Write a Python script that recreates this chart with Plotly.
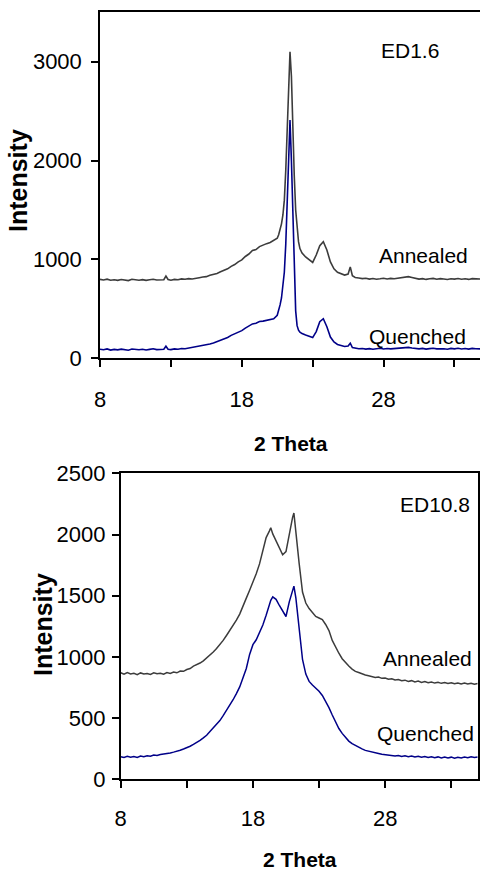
import plotly.graph_objects as go

# ---------------- data: ED1.6 (top panel) ----------------
top_theta = [8.0, 8.25, 8.5, 8.75, 9.0, 9.25, 9.5, 9.75, 10.0, 10.25, 10.5, 10.75, 11.0, 11.25, 11.5, 11.75, 12.0, 12.25, 12.5,
             12.65, 12.8,
             13.0, 13.25, 13.5, 13.75, 14.0, 14.25, 14.5, 14.75, 15.0, 15.25, 15.5, 15.75, 16.0, 16.25, 16.5, 16.75,
             17.0, 17.25, 17.5, 17.75, 18.0, 18.25, 18.5, 18.75, 19.0, 19.25, 19.5, 19.75, 20.0, 20.25, 20.5,
             20.6, 20.7, 20.8, 20.9, 21.0, 21.1, 21.2, 21.3, 21.4, 21.5, 21.6, 21.7, 21.8, 21.9, 22.0, 22.1,
             22.25, 22.5, 22.75, 23.0, 23.25, 23.5, 23.75, 24.0, 24.25, 24.5, 24.75, 25.0, 25.25, 25.5,
             25.65, 25.8,
             26.0, 26.25, 26.5, 26.75, 27.0, 27.25, 27.5, 27.75, 28.0, 28.25, 28.5, 28.75, 29.0, 29.25, 29.5, 29.75,
             30.0, 30.25, 30.5, 30.75, 31.0, 31.25, 31.5, 31.75, 32.0, 32.25, 32.5, 32.75, 33.0, 33.25, 33.5, 33.75,
             34.0, 34.25, 34.5, 34.75, 35.0]

top_annealed = [798, 792, 801, 789, 795, 788, 797, 791, 786, 799, 793, 790, 796, 788, 794, 800, 792, 797, 795,
                832, 797,
                790, 798, 795, 803, 799, 806, 802, 812, 815, 822, 826, 840, 848, 858, 875, 888,
                905, 930, 948, 975, 995, 1030, 1055, 1090, 1100, 1130, 1148, 1160, 1172, 1195, 1215,
                1250, 1300, 1360, 1450, 1600, 1900, 2300, 2750, 3100, 2850, 2300, 1850, 1500, 1300, 1180, 1110,
                1065, 1025, 995, 970, 1045, 1140, 1180, 1095, 975, 905, 870, 852, 842, 852,
                925, 835,
                818, 812, 806, 809, 801, 807, 799, 804, 810, 803, 808, 805, 809, 812, 818, 826,
                818, 809, 801, 806, 798, 804, 808, 800, 806, 802, 797, 805, 801, 807, 800, 804,
                798, 806, 802, 805, 800]

top_quenched = [92, 86, 95, 83, 90, 85, 93, 88, 82, 94, 89, 86, 92, 84, 90, 96, 88, 93, 91,
                122, 92,
                88, 95, 92, 99, 97, 104, 106, 113, 118, 125, 132, 145, 155, 168, 182, 198,
                210, 232, 248, 262, 280, 305, 330, 348, 355, 372, 376, 382, 392, 400, 435,
                480, 540, 610, 720, 870, 1150, 1650, 2150, 2410, 2000, 1450, 900, 480, 330, 285, 265,
                250, 236, 220, 210, 270, 370, 400, 320, 215, 165, 140, 128, 120, 125,
                152, 108,
                100, 96, 99, 93, 98, 92, 97, 101, 94, 99, 95, 98, 102, 100, 106, 110,
                104, 98, 95, 100, 93, 98, 102, 95, 99, 96, 92, 100, 95, 101, 94, 99,
                93, 100, 96, 99, 95]

# ---------------- data: ED10.8 (bottom panel) ----------------
bot_theta = [8.0, 8.25, 8.5, 8.75, 9.0, 9.25, 9.5, 9.75, 10.0, 10.25, 10.5, 10.75, 11.0, 11.25, 11.5, 11.75,
             12.0, 12.25, 12.5, 12.75, 13.0, 13.25, 13.5, 13.75, 14.0, 14.25, 14.5, 14.75, 15.0, 15.25, 15.5, 15.75,
             16.0, 16.25, 16.5, 16.75, 17.0, 17.25, 17.5, 17.75, 18.0, 18.25, 18.5, 18.75, 19.0, 19.25,
             19.35,
             19.5, 19.75, 20.0, 20.25, 20.5, 20.75, 21.0,
             21.1,
             21.25, 21.5, 21.75, 22.0, 22.25, 22.5, 22.75, 23.0, 23.25, 23.5, 23.75, 24.0, 24.25, 24.5, 24.75, 25.0,
             25.25, 25.5, 25.75, 26.0, 26.25, 26.5, 26.75, 27.0, 27.25, 27.5, 27.75, 28.0, 28.25, 28.5, 28.75, 29.0,
             29.25, 29.5, 29.75, 30.0, 30.25, 30.5, 30.75, 31.0, 31.25, 31.5, 31.75, 32.0, 32.25, 32.5, 32.75, 33.0,
             33.25, 33.5, 33.75, 34.0, 34.25, 34.5, 34.75, 35.0]

bot_annealed = [870, 858, 872, 861, 866, 855, 869, 860, 864, 857, 870, 862, 866, 858, 872, 865,
                876, 870, 884, 882, 897, 905, 925, 935, 950, 968, 990, 1015, 1040, 1068, 1100, 1135,
                1175, 1215, 1255, 1300, 1350, 1410, 1480, 1545, 1610, 1680, 1760, 1880, 1975, 2030,
                2055,
                2005, 1945, 1895, 1835, 1860, 2010, 2140,
                2175,
                2000, 1760, 1530, 1440, 1395, 1360, 1330, 1318, 1305, 1265, 1215, 1135, 1080, 1030, 985, 950,
                925, 900, 882, 872, 860, 852, 846, 840, 832, 836, 825, 828, 818, 822, 812, 815,
                806, 810, 800, 806, 796, 802, 792, 798, 789, 795, 786, 793, 784, 790, 782, 789,
                780, 787, 779, 786, 778, 785, 777, 783]

bot_quenched = [185, 178, 188, 180, 186, 179, 190, 184, 192, 188, 198, 194, 202, 205, 212, 215,
                222, 228, 238, 248, 258, 270, 285, 300, 318, 338, 360, 390, 418, 448, 480, 520,
                560, 600, 650, 700, 755, 830, 905, 1020, 1100, 1140, 1195, 1260, 1340, 1430,
                1462,
                1490, 1470, 1420, 1370, 1330, 1450, 1555,
                1578,
                1480, 1230, 980, 860, 800, 770, 748, 720, 685, 640, 585, 525, 465, 415, 375, 340,
                312, 292, 275, 260, 248, 236, 228, 220, 214, 210, 204, 202, 196, 198, 190, 195,
                187, 192, 184, 190, 182, 188, 180, 186, 178, 184, 176, 183, 175, 182, 174, 181,
                173, 180, 175, 182, 176, 184, 178, 183]

x_tickvals = [8, 13, 18, 23, 28, 33]
x_ticktext = ["8", "", "18", "", "28", ""]
top_yticks = [0, 1000, 2000, 3000]
bot_yticks = [0, 500, 1000, 1500, 2000, 2500]

# ---------------- figure ----------------
W, H = 480, 874
FONT = "Liberation Sans, Arial, sans-serif"
ANNEALED_C = "#3c3c3c"
QUENCHED_C = "#000088"


def px_x(p):
    return p / W


def px_y(p):
    return 1 - p / H


fig = go.Figure()
fig.add_trace(go.Scatter(x=top_theta, y=top_annealed, mode="lines", line=dict(color=ANNEALED_C, width=1.6),
                         xaxis="x", yaxis="y", showlegend=False))
fig.add_trace(go.Scatter(x=top_theta, y=top_quenched, mode="lines", line=dict(color=QUENCHED_C, width=1.6),
                         xaxis="x", yaxis="y", showlegend=False))
fig.add_trace(go.Scatter(x=bot_theta, y=bot_annealed, mode="lines", line=dict(color=ANNEALED_C, width=1.5),
                         xaxis="x2", yaxis="y2", showlegend=False))
fig.add_trace(go.Scatter(x=bot_theta, y=bot_quenched, mode="lines", line=dict(color=QUENCHED_C, width=1.5),
                         xaxis="x2", yaxis="y2", showlegend=False))

axis_common = dict(showgrid=False, zeroline=False, showline=True, linecolor="black", linewidth=1.5,
                   ticks="outside", ticklen=7, tickwidth=1.5, tickcolor="black", automargin=False,
                   tickfont=dict(family=FONT, size=22, color="black"))

fig.update_layout(
    template="none",
    width=W, height=H,
    margin=dict(l=0, r=0, t=0, b=0, pad=0, autoexpand=False),
    paper_bgcolor="white", plot_bgcolor="white",
    xaxis=dict(axis_common, domain=[px_x(100), 1.0], range=[8, 34.8], anchor="y",
               tickvals=x_tickvals, ticktext=x_ticktext, mirror=True, ticklabelstandoff=14),
    yaxis=dict(axis_common, domain=[px_y(358.3), px_y(12.3)], range=[0, 3500], anchor="x",
               tickvals=top_yticks, ticklabelstandoff=5),
    xaxis2=dict(axis_common, domain=[px_x(120.7), px_x(477.7)], range=[8, 35], anchor="y2",
                tickvals=x_tickvals, ticktext=x_ticktext, mirror=True, ticklabelstandoff=12),
    yaxis2=dict(axis_common, domain=[px_y(779.3), px_y(473.3)], range=[0, 2500], anchor="x2",
                tickvals=bot_yticks, mirror=True, ticklabelstandoff=2),
)


def note(text, x, y, size=21, bold=False, angle=0):
    fig.add_annotation(text=f"<b>{text}</b>" if bold else text, x=px_x(x), y=px_y(y),
                       xref="paper", yref="paper", showarrow=False, textangle=angle,
                       xanchor="center", yanchor="middle", borderpad=0,
                       font=dict(family=FONT, size=size, color="black"))


note("Intensity", 18, 181, size=25, bold=True, angle=-90)
note("2 Theta", 291, 443, size=21, bold=True)
note("ED1.6", 410, 50)
note("Annealed", 423, 256)
note("Quenched", 417, 337)

note("Intensity", 43, 625, size=25, bold=True, angle=-90)
note("2 Theta", 300, 859, size=21, bold=True)
note("ED10.8", 435, 504)
note("Annealed", 427, 658)
note("Quenched", 425, 733)

fig.write_html("out.html")
